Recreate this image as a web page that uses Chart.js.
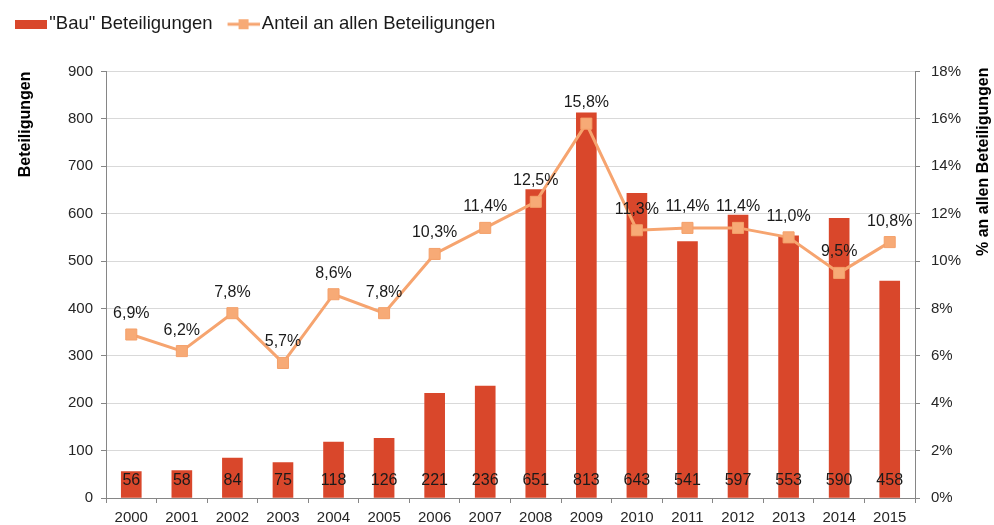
<!DOCTYPE html>
<html>
<head>
<meta charset="utf-8">
<script src="https://cdn.jsdelivr.net/npm/chart.js@4/dist/chart.umd.min.js"></script>
<style>
html,body{margin:0;padding:0;background:#fff;}
#wrap{width:994px;height:525px;position:relative;}
</style>
</head>
<body>
<div id="wrap"><canvas id="c"></canvas></div>
<script>
const years = ['2000','2001','2002','2003','2004','2005','2006','2007','2008','2009','2010','2011','2012','2013','2014','2015'];
const bauBeteiligungen = [56,58,84,75,118,126,221,236,651,813,643,541,597,553,590,458];
const anteilProzent = [6.9,6.2,7.8,5.7,8.6,7.8,10.3,11.4,12.5,15.8,11.3,11.4,11.4,11.0,9.5,10.8];
const seriesNames = ['"Bau" Beteiligungen', 'Anteil an allen Beteiligungen'];
const axisTitles = ['Beteiligungen', '% an allen Beteiligungen'];

const BAR_COLOR = '#D9472B';
const LINE_COLOR = '#F6A46F';
const POINT_FILL = '#F7AA76';
const POINT_BORDER = '#F4A06A';
const AXIS_COLOR = '#868686';
const GRID_COLOR = '#D9D9D9';
const TEXT_COLOR = '#262626';
const FONT = '"Liberation Sans", Arial, sans-serif';

Chart.defaults.font.family = FONT;

function makeBarIcon(){
  const c = document.createElement('canvas');
  c.width = 39; c.height = 9;
  const g = c.getContext('2d');
  g.fillStyle = BAR_COLOR;
  g.fillRect(7, 0, 32, 9);
  return c;
}
function makeLineIcon(){
  const c = document.createElement('canvas');
  c.width = 39; c.height = 12;
  const g = c.getContext('2d');
  g.strokeStyle = LINE_COLOR;
  g.lineWidth = 3;
  g.beginPath(); g.moveTo(7, 6); g.lineTo(39, 6); g.stroke();
  g.fillStyle = POINT_FILL;
  g.fillRect(18, 1, 10, 10);
  return c;
}
const barIcon = makeBarIcon();
const lineIcon = makeLineIcon();

const legendSpacer = {
  id: 'legendSpacer',
  beforeLayout(chart){
    const lg = chart.legend;
    if (lg && !lg._patched){
      const f = lg.fit;
      lg.fit = function(){ f.call(this); this.height += 28; };
      lg._patched = true;
    }
  }
};

const valueLabels = {
  id: 'valueLabels',
  afterDatasetsDraw(chart){
    const ctx = chart.ctx;
    ctx.save();
    ctx.font = '16px ' + FONT;
    ctx.fillStyle = '#1a1a1a';
    ctx.textAlign = 'center';
    ctx.textBaseline = 'middle';
    const ys = chart.scales.y;
    const base = ys.getPixelForValue(0);
    chart.getDatasetMeta(0).data.forEach((el, i) => {
      ctx.fillText(String(bauBeteiligungen[i]), el.x, base - 17);
    });
    chart.getDatasetMeta(1).data.forEach((el, i) => {
      ctx.fillText(anteilProzent[i].toFixed(1).replace('.', ',') + '%', el.x, el.y - 21);
    });
    ctx.restore();
  }
};

const rightTitle = {
  id: 'rightTitle',
  afterDraw(chart){
    const ctx = chart.ctx;
    const a = chart.chartArea;
    ctx.save();
    ctx.font = 'bold 16px ' + FONT;
    ctx.fillStyle = '#000';
    ctx.translate(984, a.top - 4);
    ctx.rotate(-Math.PI / 2);
    ctx.textAlign = 'right';
    ctx.textBaseline = 'middle';
    ctx.fillText(axisTitles[1], 0, 0);
    ctx.restore();
  }
};

new Chart(document.getElementById('c'), {
  data: {
    labels: years,
    datasets: [
      {
        type: 'bar',
        label: seriesNames[0],
        data: bauBeteiligungen,
        backgroundColor: BAR_COLOR,
        barThickness: 20,
        yAxisID: 'y',
        order: 1
      },
      {
        type: 'line',
        label: seriesNames[1],
        data: anteilProzent,
        borderColor: LINE_COLOR,
        borderWidth: 3,
        pointStyle: 'rect',
        pointRadius: 7.8,
        pointBackgroundColor: POINT_FILL,
        pointBorderColor: POINT_BORDER,
        pointBorderWidth: 1,
        tension: 0,
        yAxisID: 'y1',
        order: 0
      }
    ]
  },
  options: {
    responsive: true,
    maintainAspectRatio: false,
    animation: false,
    devicePixelRatio: 1,
    layout: { padding: 0 },
    plugins: {
      tooltip: { enabled: false },
      legend: {
        position: 'top',
        align: 'start',
        labels: {
          usePointStyle: true,
          pointStyleWidth: 25,
          padding: 15,
          color: '#1a1a1a',
          font: { size: 18.5 },
          generateLabels(chart){
            return [
              { text: seriesNames[0], pointStyle: barIcon, datasetIndex: 0, hidden: !chart.isDatasetVisible(0), fontColor: '#1a1a1a', lineWidth: 0, strokeStyle: 'transparent', fillStyle: BAR_COLOR },
              { text: seriesNames[1], pointStyle: lineIcon, datasetIndex: 1, hidden: !chart.isDatasetVisible(1), fontColor: '#1a1a1a', lineWidth: 0, strokeStyle: 'transparent', fillStyle: LINE_COLOR }
            ];
          }
        }
      }
    },
    scales: {
      x: {
        offset: true,
        grid: { offset: true, drawOnChartArea: false, tickLength: 5, tickColor: AXIS_COLOR },
        border: { color: AXIS_COLOR },
        ticks: { color: TEXT_COLOR, font: { size: 15 }, padding: 6, maxRotation: 0, autoSkip: false },
        afterFit(s){ s.height = 27; }
      },
      y: {
        position: 'left',
        min: 0, max: 900,
        ticks: { stepSize: 100, color: TEXT_COLOR, font: { size: 15 }, padding: 8 },
        grid: { color: GRID_COLOR, tickColor: AXIS_COLOR, tickLength: 5 },
        border: { color: AXIS_COLOR },
        title: { display: true, text: axisTitles[0], align: 'end', color: '#000', font: { size: 16, weight: 'bold' }, padding: { top: 16, bottom: 0 } },
        afterFit(s){ s.width = 106; }
      },
      y1: {
        position: 'right',
        min: 0, max: 18,
        ticks: { stepSize: 2, color: TEXT_COLOR, font: { size: 15 }, padding: 11, callback: v => v + '%' },
        grid: { drawOnChartArea: false, tickColor: AXIS_COLOR, tickLength: 5 },
        border: { color: AXIS_COLOR },
        afterFit(s){ s.width = 79; }
      }
    }
  },
  plugins: [legendSpacer, valueLabels, rightTitle]
});
</script>
</body>
</html>
